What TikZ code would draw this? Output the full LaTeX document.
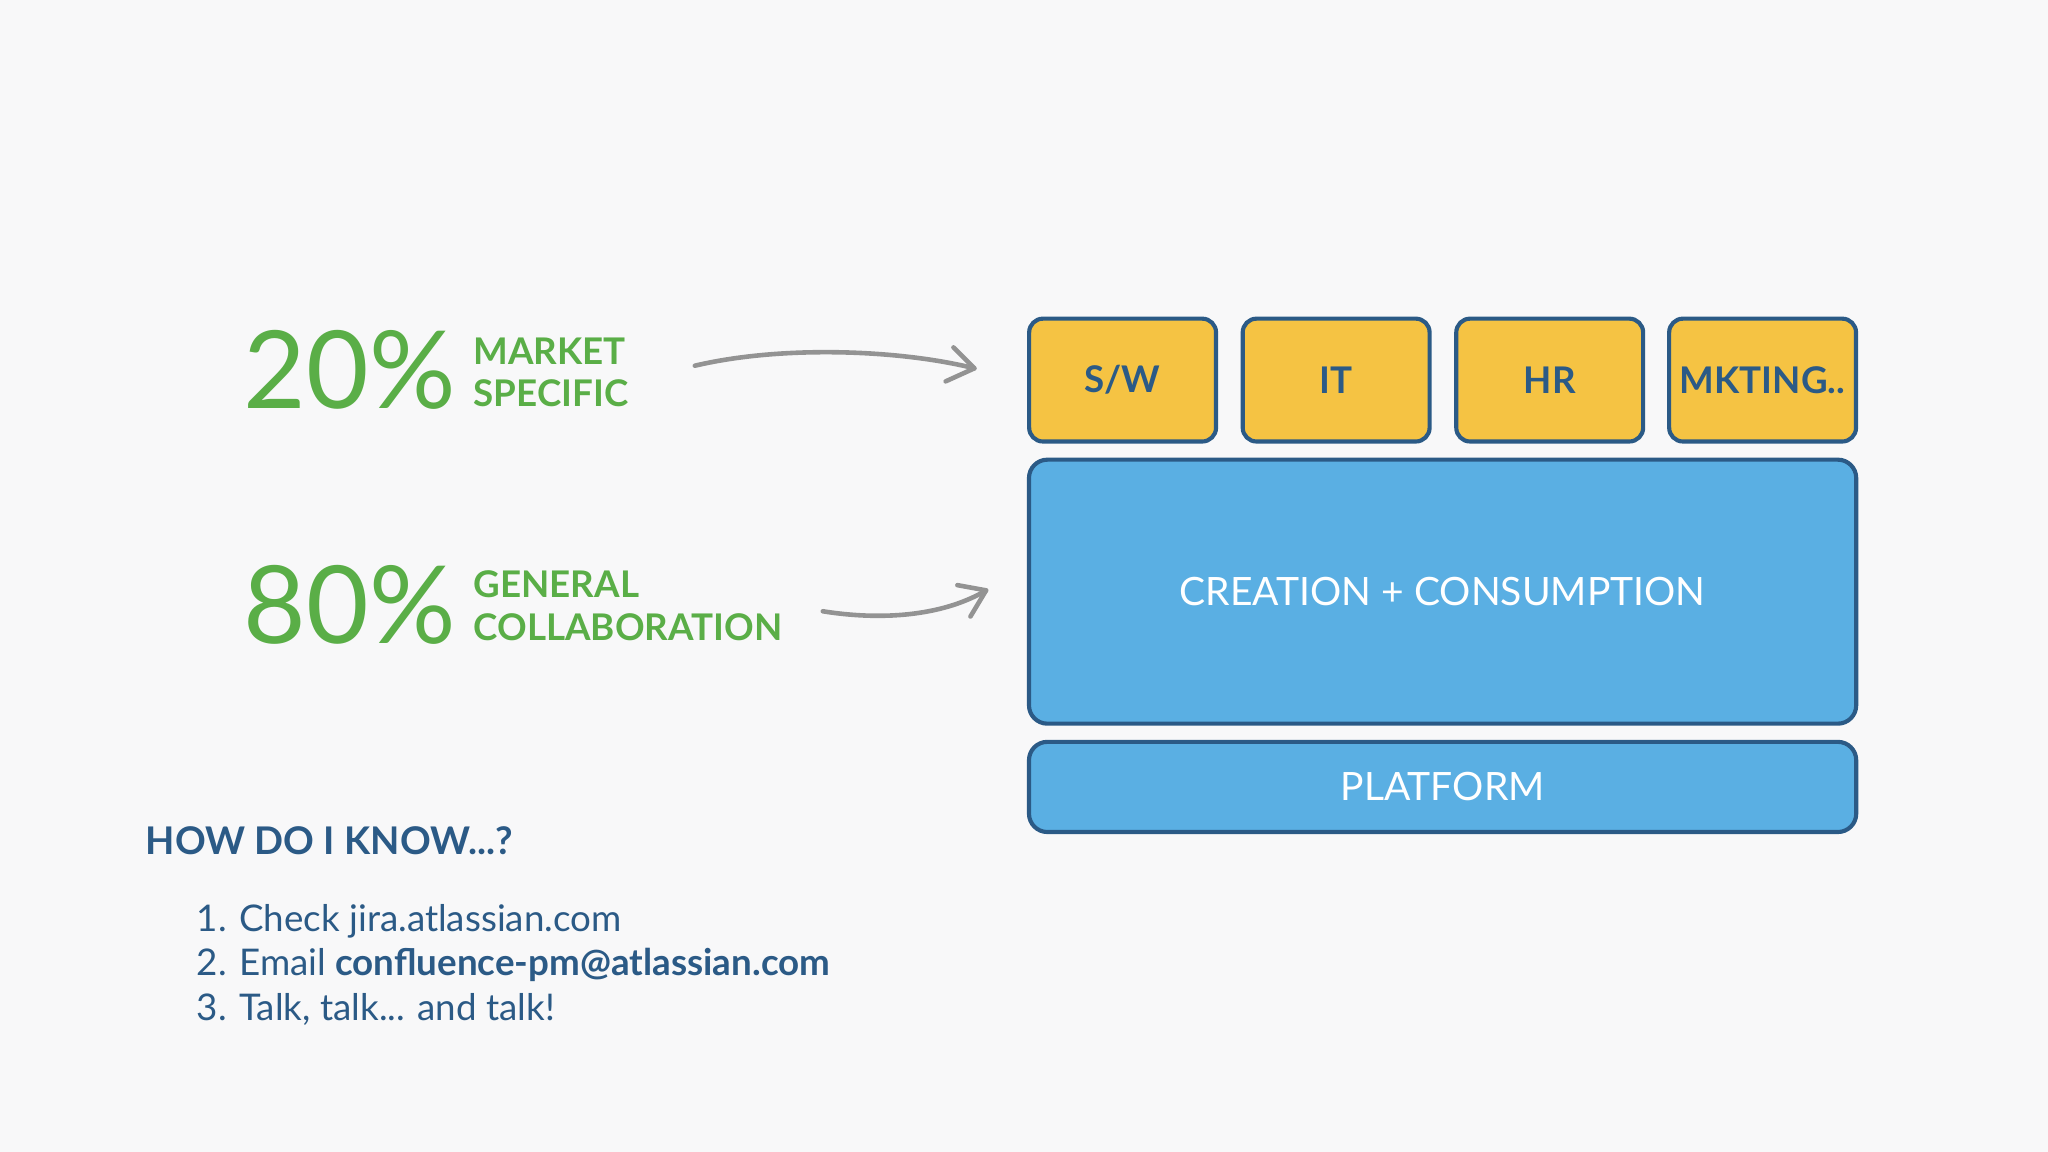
\documentclass[tikz,border=0pt]{standalone}
\usepackage{fontspec}
\setmainfont{Lato}
\begin{document}
\begin{tikzpicture}[x=0.01cm,y=-0.01cm,
  ybox/.style={draw=dblue,line width=0.9pt,fill=yel,rounded corners=3pt,font=\fontsize{8}{10}\selectfont\bfseries,text=dblue,inner sep=1pt},
  bbox/.style={draw=dblue,line width=0.9pt,fill=sky,rounded corners=4pt,font=\fontsize{8.5}{10}\selectfont,text=white},
  big/.style={font=\fontsize{23.5}{24}\selectfont,text=grn,anchor=west,inner sep=0},
  lab/.style={font=\fontsize{8}{9.3}\selectfont\bfseries,text=grn,anchor=west,align=left,inner sep=0},
  arr/.style={draw=gray!85,line width=1pt,line cap=round,line join=round}]
\definecolor{grn}{HTML}{5AAE47}
\definecolor{dblue}{HTML}{2B5A86}
\definecolor{yel}{HTML}{F5C343}
\definecolor{sky}{HTML}{5AAFE3}
\fill[fill={rgb,255:red,248;green,248;blue,249}] (0,0) rectangle (1568,882);
\useasboundingbox (0,0) rectangle (1568,882);
\node[big] (p20) at (186,283) {20\%};
\node[lab] (m) at (362,285) {MARKET\\SPECIFIC};
\node[big] (p80) at (186,463) {80\%};
\node[lab] (g) at (362,464) {GENERAL\\COLLABORATION};
\node[ybox,minimum width=1.43cm,minimum height=0.94cm] (sw) at (859.5,291) {S/W};
\node[ybox,minimum width=1.43cm,minimum height=0.94cm] (it) at (1023,291) {IT};
\node[ybox,minimum width=1.43cm,minimum height=0.94cm] (hr) at (1186.5,291) {HR};
\node[ybox,minimum width=1.43cm,minimum height=0.94cm] (mk) at (1349.5,291) {MKTING..};
\node[bbox,minimum width=6.33cm,minimum height=2.02cm] (cc) at (1104.5,453) {CREATION + CONSUMPTION};
\node[bbox,minimum width=6.33cm,minimum height=0.69cm] (pl) at (1104.5,602.5) {PLATFORM};
\coordinate (a1) at (532,280); \coordinate (a2) at (746,282);
\draw[arr] (a1) .. controls (600,264) and (690,268) .. (a2);
\draw[arr] (730,266) -- (a2) -- (724,292);
\coordinate (b1) at (630,468); \coordinate (b2) at (755,452);
\draw[arr] (b1) .. controls (680,476) and (725,470) .. (b2);
\draw[arr] (733,448) -- (b2) -- (743,472);
\node[font=\fontsize{8.3}{10}\selectfont\bfseries,text=dblue,anchor=west,inner sep=0] (h) at (111,644) {HOW DO I KNOW...?};
\node[font=\fontsize{8}{9.6}\selectfont,text=dblue,anchor=north west,align=left,inner sep=0] (l) at (150,692)
 {1. Check jira.atlassian.com\\2. Email \textbf{confluence-pm@atlassian.com}\\3. Talk, talk... and talk!};
\end{tikzpicture}
\end{document}
